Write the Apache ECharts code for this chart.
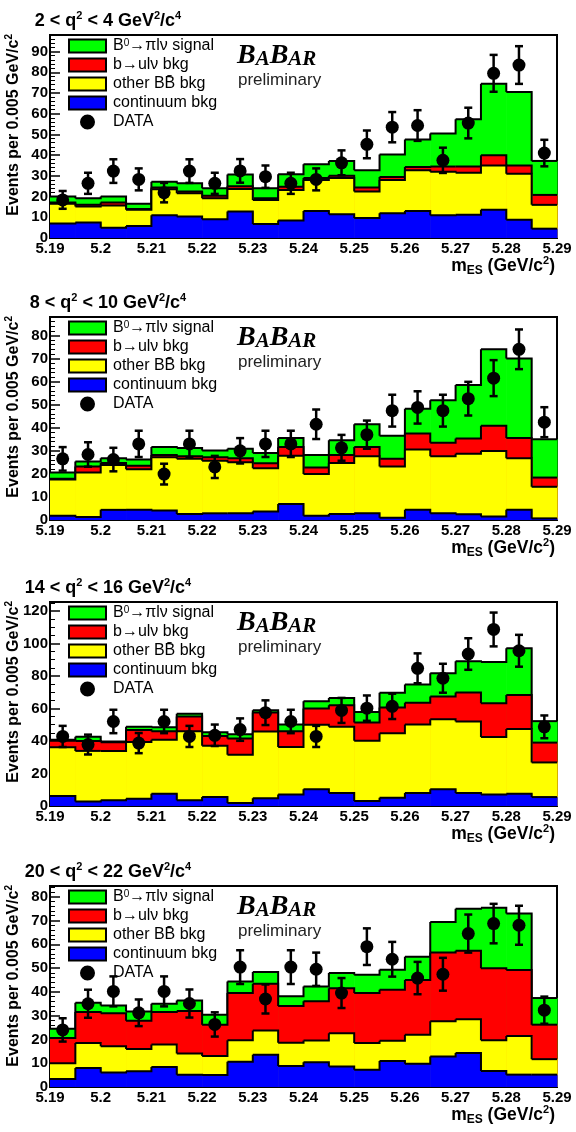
<!DOCTYPE html>
<html><head><meta charset="utf-8">
<script src="https://cdn.jsdelivr.net/npm/echarts@6/dist/echarts.min.js"></script>
<style>html,body{margin:0;padding:0;background:#fff}#c{width:576px;height:1132px}</style>
</head><body><div id="c"></div>
<script>
// ---- bins (mES low edges, GeV/c^2) ----
const BIN_W = 0.005;
const binLow = [5.19,5.195,5.2,5.205,5.21,5.215,5.22,5.225,5.23,5.235,5.24,5.245,5.25,5.255,5.26,5.265,5.27,5.275,5.28,5.285];

// ---- panel 1 : 2 < q2 < 4 ----
const p1_continuum = [7,7.5,5,5.8,11,10.4,9,12.8,6.7,8.5,13,11.5,9.6,12,13,11,11.2,13.6,8.8,4.5];
const p1_otherBB   = [9.5,7.7,10.7,7.8,12.5,11.2,10.2,10.8,11.7,14.7,15,17.5,12.8,16,19.7,21,20.3,21.4,22.2,11.5];
const p1_bulnu     = [0.6,0.8,1.4,0.4,0.9,0.8,1.2,1.4,0.8,1.6,1,1,2,1.5,1.6,2.5,3,5,4,4.8];
const p1_signal    = [2.9,3.2,2.9,2.5,2.8,4,3.6,5.7,4.8,6,6.6,7.2,8.3,10.8,13.3,16,22.8,34.5,35.5,16.4];
const p1_data      = [18.4,26.4,32.3,28.3,21.9,32.3,26.4,32.4,29.6,26.4,28.3,36.3,45.2,53.5,54.3,37.5,55.5,79.5,83.5,41];
const p1_err       = [4.3,5.1,5.7,5.3,4.7,5.7,5.1,5.7,5.4,5.1,5.3,6,6.7,7.3,7.4,6.1,7.4,8.9,9.1,6.4];

// ---- panel 2 : 8 < q2 < 10 ----
const p2_continuum = [1.8,1.3,4.4,4.4,4.1,2.6,2.9,2.9,3.7,6.9,1.8,2.6,2.9,1,4.4,2.9,2.5,1.5,4.4,0.7];
const p2_otherBB   = [15.8,19.3,19.4,17.6,23.1,23.9,22.8,22.1,18.7,21,18.1,22.1,24.7,22.2,26.2,24.7,26.2,28.4,22.4,13.7];
const p2_bulnu     = [0.3,2.6,0.9,1.5,1,1.1,1.5,1.8,2.2,3.7,2.9,3.5,4,3.3,6.9,5.9,6.6,11,8.8,4];
const p2_signal    = [2.7,2.2,2.1,2.7,3.4,3.6,2.9,4.1,4.4,4,5.4,6.4,9.9,10,10.7,18.4,23.2,33.1,34.4,16.6];
const p2_data      = [26.5,28.4,26.2,33,19.9,33,23,30,33,33,41.5,31.3,37,47.4,48.8,47.4,52.6,61.5,74,42.4];
const p2_err       = [5.1,5.3,5.1,5.7,4.5,5.7,4.8,5.5,5.7,5.7,6.4,5.6,6.1,6.9,7,6.9,7.3,7.8,8.6,6.5];

// ---- panel 3 : 14 < q2 < 16 ----
const p3_continuum = [6.2,2.8,3.6,4.5,7.5,3.5,5.5,1.8,4.8,7,10.3,8,3,5,8,10.3,8,7,7.5,5.5];
const p3_otherBB   = [30,31.1,30.3,34.9,33.3,42.5,31.5,29.8,41,29.3,39.7,40.7,37.1,39.8,42.2,43,44,35.5,39.8,21.3];
const p3_bulnu     = [3.9,6.1,5.3,7.3,5.2,9.1,6,10,11.7,9.7,10,13.3,11.2,15.8,13.3,14.1,17.8,20.7,21,12.2];
const p3_signal    = [0.7,2.6,0.5,2,2.5,1.6,2.4,2.6,1.4,4.1,4.5,4.5,6.5,9,11.2,14.3,19.3,25.4,28.7,13.2];
const p3_data      = [42.8,37.8,52,38.7,52,42.8,43.5,47,57.4,52,42.8,58.8,60.2,61.3,84.7,78.6,93.5,108.6,95.5,48.7];
const p3_err       = [6.5,6.1,7.2,6.2,7.2,6.5,6.6,6.9,7.6,7.2,6.5,7.7,7.8,7.8,9.2,8.9,9.7,10.4,9.8,7];

// ---- panel 4 : 20 < q2 < 22 ----
const p4_continuum = [3.4,8,6.1,6.6,8.4,5.2,5,10.6,13.6,8.8,10.4,8.6,7.3,10.9,9.8,12.8,14.3,6.7,5.2,5.2];
const p4_otherBB   = [6.6,10.5,11,9.4,9.5,8.9,8,9.1,10.2,9.8,9.1,14,11.2,8.5,12.2,14.8,14.2,13,16.2,6.5];
const p4_bulnu     = [10.6,13,13.9,11.8,13.6,17.9,13.2,19.8,19.6,15.4,16.5,18.9,21,21.5,23,28.9,28.8,30.2,27.8,14.5];
const p4_signal    = [3.9,3.9,3.3,3.9,3.5,4.4,4.2,4.9,4.9,4.1,6.3,6.4,7.7,8.4,9.8,12.9,17.6,25.5,23.7,11.2];
const p4_data      = [24,35,40.2,31.2,40.2,35.1,26.3,50.4,37,50.4,49.5,39.5,59,53.7,45.8,47.4,64.5,68.7,68,32.3];
const p4_err       = [4.9,5.9,6.3,5.6,6.3,5.9,5.1,7.1,6.1,7.1,7,6.3,7.7,7.3,6.8,6.9,8,8.3,8.2,5.7];

// ---- labels / axes ----
const panelTitles = [
  '{t|2 < q}{s|2}{t| < 4 GeV}{s|2}{t|/c}{s|4}',
  '{t|8 < q}{s|2}{t| < 10 GeV}{s|2}{t|/c}{s|4}',
  '{t|14 < q}{s|2}{t| < 16 GeV}{s|2}{t|/c}{s|4}',
  '{t|20 < q}{s|2}{t| < 22 GeV}{s|2}{t|/c}{s|4}'
];
const yMax  = [98, 88, 125.5, 84.5];
const yStep = [10, 10, 20, 10];
const xMin = 5.19, xMax = 5.29, xStep = 0.01;
const legendLabels = {
  signal: '{n|B}{s|0}{n|\u2192\u03c0l\u03bd signal}',
  bulnu: '{n|b\u2192ul\u03bd bkg}',
  otherBB: '{n|other BB\u0304 bkg}',
  continuum: '{n|continuum bkg}',
  DATA: '{n|DATA}'
};

const panels = [
  {cont:p1_continuum, bb:p1_otherBB, bul:p1_bulnu, sig:p1_signal, data:p1_data, err:p1_err},
  {cont:p2_continuum, bb:p2_otherBB, bul:p2_bulnu, sig:p2_signal, data:p2_data, err:p2_err},
  {cont:p3_continuum, bb:p3_otherBB, bul:p3_bulnu, sig:p3_signal, data:p3_data, err:p3_err},
  {cont:p4_continuum, bb:p4_otherBB, bul:p4_bulnu, sig:p4_signal, data:p4_data, err:p4_err}
];

// ---- layout ----
const gridTop = [35, 317, 602, 886];
const gridH   = [203, 203, 204, 201];
const GL = 50, GW = 507;
const FONT = 'Liberation Sans, Arial, Helvetica, sans-serif';
const SERIF = 'Liberation Serif, DejaVu Serif, serif';
const COLORS = {signal:'#00ff00', bulnu:'#ff0000', otherBB:'#ffff00', continuum:'#0000ff'};

function renderHist(params, api) {
  const x0 = api.value(0), y = api.value(1), yn = api.value(2);
  const a = api.coord([x0, 0]);
  const b = api.coord([x0 + BIN_W, y]);
  const c = api.coord([x0 + BIN_W, yn]);
  return {type:'group', children:[
    {type:'rect', z2:0, shape:{x:a[0], y:b[1], width:b[0]-a[0]+0.6, height:a[1]-b[1]},
     style:{fill: api.visual('color')}},
    {type:'polyline', z2:1, shape:{points:[[a[0], b[1]], [b[0], b[1]], [c[0], c[1]]]},
     style:{stroke:'#000', lineWidth:2, fill:null}}
  ]};
}
function renderErr(params, api) {
  const x = api.value(0), y = api.value(1), e = api.value(2);
  const lo = api.coord([x, y - e]), hi = api.coord([x, y + e]);
  const cw = 4, st = {stroke:'#000', lineWidth:2.5};
  return {type:'group', children:[
    {type:'line', shape:{x1:lo[0], y1:lo[1], x2:hi[0], y2:hi[1]}, style:st},
    {type:'line', shape:{x1:lo[0]-cw, y1:lo[1], x2:lo[0]+cw, y2:lo[1]}, style:st},
    {type:'line', shape:{x1:hi[0]-cw, y1:hi[1], x2:hi[0]+cw, y2:hi[1]}, style:st}
  ]};
}

const grids = [], xAxes = [], yAxes = [], series = [], legends = [], graphics = [];
panels.forEach((p, k) => {
  grids.push({left:GL, top:gridTop[k], width:GW, height:gridH[k], show:true,
    borderColor:'#000', borderWidth:2, backgroundColor:'#fff', outerBoundsMode:'none'});
  xAxes.push({gridIndex:k, type:'value', min:xMin, max:xMax, interval:xStep,
    axisLine:{show:true, onZero:false, lineStyle:{color:'#000', width:2}},
    axisTick:{show:true, inside:true, length:8, lineStyle:{color:'#000', width:1.5}},
    minorTick:{show:true, splitNumber:5, length:4, lineStyle:{color:'#000'}},
    splitLine:{show:false},
    axisLabel:{color:'#000', fontFamily:FONT, fontWeight:'bold', fontSize:15, margin:3,
      showMinLabel:true, showMaxLabel:true,
      formatter: v => String(+(+v).toFixed(3))}});
  yAxes.push({gridIndex:k, type:'value', min:0, max:yMax[k], interval:yStep[k],
    axisLine:{show:true, onZero:false, lineStyle:{color:'#000', width:2}},
    axisTick:{show:true, inside:true, length:10, lineStyle:{color:'#000', width:1.5}},
    minorTick:{show:true, splitNumber: yStep[k] === 20 ? 4 : 5, length:5, lineStyle:{color:'#000', width:1}},
    splitLine:{show:false},
    axisLabel:{color:'#000', fontFamily:FONT, fontWeight:'bold', fontSize:15, margin:2,
      showMaxLabel:false,
      formatter: v => (Math.abs(v / yStep[k] - Math.round(v / yStep[k])) < 1e-6 ? String(v) : '')}});

  // stacked tops built from the component arrays
  const c1 = p.cont.map(v => v);
  const c2 = c1.map((v, i) => v + p.bb[i]);
  const c3 = c2.map((v, i) => v + p.bul[i]);
  const c4 = c3.map((v, i) => v + p.sig[i]);
  const layers = [['signal', c4, 2], ['bulnu', c3, 3], ['otherBB', c2, 4], ['continuum', c1, 5]];
  layers.forEach(([name, top, z]) => {
    series.push({type:'custom', name, xAxisIndex:k, yAxisIndex:k, z,
      itemStyle:{color:COLORS[name]}, renderItem:renderHist, silent:true,
      data: binLow.map((x, i) => [x, top[i], i < top.length - 1 ? top[i + 1] : top[i]])});
  });
  const centers = binLow.map(x => x + BIN_W / 2);
  series.push({type:'custom', name:'errors', xAxisIndex:k, yAxisIndex:k, z:6, silent:true,
    renderItem:renderErr, data: centers.map((x, i) => [x, p.data[i], p.err[i]])});
  series.push({type:'scatter', name:'DATA', xAxisIndex:k, yAxisIndex:k, z:7, symbol:'circle',
    symbolSize:13, itemStyle:{color:'#000', opacity:1}, silent:true,
    data: centers.map((x, i) => [x, p.data[i]])});

  legends.push({orient:'vertical', left:68, top:gridTop[k] + 3, padding:0,
    itemWidth:37, itemHeight:13, itemGap:3, selectedMode:false,
    itemStyle:{borderColor:'#000', borderWidth:2, opacity:1},
    data:[{name:'signal', icon:'rect'}, {name:'bulnu', icon:'rect'}, {name:'otherBB', icon:'rect'},
          {name:'continuum', icon:'rect'}, {name:'DATA', icon:'circle'}],
    formatter: n => legendLabels[n],
    textStyle:{color:'#000', fontFamily:FONT, fontSize:16, lineHeight:15, padding:[0,0,0,2],
      rich:{n:{fontFamily:FONT, fontSize:16, lineHeight:15, color:'#000'},
            s:{fontFamily:FONT, fontSize:10, lineHeight:8, verticalAlign:'top', color:'#000'}}}});

  const T = gridTop[k], B = gridTop[k] + gridH[k];
  // panel title
  graphics.push({type:'text', x:108, y:T - 14, silent:true,
    style:{text:panelTitles[k], align:'center', verticalAlign:'middle', textAlign:'center', textVerticalAlign:'middle',
      rich:{t:{fontFamily:FONT, fontWeight:'bold', fontSize:18, lineHeight:22, color:'#000'},
            s:{fontFamily:FONT, fontWeight:'bold', fontSize:11, lineHeight:11, verticalAlign:'top', color:'#000'}}}});
  // y axis title
  graphics.push({type:'text', x:14, y:T - 1, rotation:Math.PI / 2, silent:true,
    style:{text:'{t|Events per 0.005 GeV/c}{s|2}', align:'right', verticalAlign:'middle', textAlign:'right', textVerticalAlign:'middle',
      rich:{t:{fontFamily:FONT, fontWeight:'bold', fontSize:16, lineHeight:20, color:'#000'},
            s:{fontFamily:FONT, fontWeight:'bold', fontSize:10, lineHeight:10, verticalAlign:'top', color:'#000'}}}});
  // x axis title
  graphics.push({type:'text', x:555, y:B + 28, silent:true,
    style:{text:'{t|m}{b|ES}{t| (GeV/c}{s|2}{t|)}', align:'right', verticalAlign:'middle', textAlign:'right', textVerticalAlign:'middle',
      rich:{t:{fontFamily:FONT, fontWeight:'bold', fontSize:17.5, lineHeight:22, color:'#000'},
            b:{fontFamily:FONT, fontWeight:'bold', fontSize:12, lineHeight:12, verticalAlign:'bottom', color:'#000'},
            s:{fontFamily:FONT, fontWeight:'bold', fontSize:11, lineHeight:11, verticalAlign:'top', color:'#000'}}}});
  // BABAR logo + preliminary
  graphics.push({type:'text', x:237, y:T + 21, silent:true,
    style:{text:'{B|B}{A|A}{B|B}{A|AR}', align:'left', verticalAlign:'middle', textAlign:'left', textVerticalAlign:'middle',
      rich:{B:{fontFamily:SERIF, fontStyle:'italic', fontWeight:'bold', fontSize:28, lineHeight:28, verticalAlign:'bottom', color:'#111'},
            A:{fontFamily:SERIF, fontStyle:'italic', fontWeight:'bold', fontSize:21, lineHeight:21, verticalAlign:'bottom', color:'#111'}}}});
  graphics.push({type:'text', x:238, y:T + 45, silent:true,
    style:{text:'preliminary', align:'left', verticalAlign:'middle', textAlign:'left', textVerticalAlign:'middle',
      fontFamily:FONT, fontSize:17, fill:'#222'}});
});

const chart = echarts.init(document.getElementById('c'), null, {renderer:'canvas'});
chart.setOption({
  animation:false, backgroundColor:'#fff',
  grid:grids, xAxis:xAxes, yAxis:yAxes, series, legend:legends,
  graphic:{elements:graphics}
});
</script></body></html>
